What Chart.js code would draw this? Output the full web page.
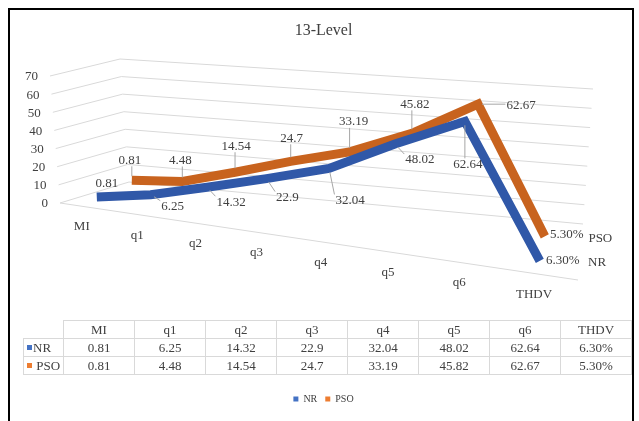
<!DOCTYPE html>
<html><head><meta charset="utf-8">
<script src="https://cdn.jsdelivr.net/npm/chart.js@4.4.1/dist/chart.umd.min.js"></script>
<style>
html,body{margin:0;padding:0;background:#fff;}
#wrap{position:relative;width:639px;height:421px;overflow:hidden;background:#fff;}
#frame{position:absolute;left:8px;top:8px;width:626px;height:440px;border:2px solid #000;box-sizing:border-box;pointer-events:none;}
canvas{position:absolute;left:0;top:0;}
#tbl{position:absolute;left:23px;top:320px;border-collapse:collapse;table-layout:fixed;width:608px;font-family:"Liberation Serif","Times New Roman",serif;font-size:13px;color:#404040;}
#tbl tr{height:18px;}
#tbl td{border:1px solid #d9d9d9;padding:0;text-align:center;line-height:16px;white-space:nowrap;}
#tbl td.lab{text-align:left;padding-left:3px;}
#tbl td.blank{border-top:none;border-left:none;}
.key{display:inline-block;width:5px;height:5px;vertical-align:middle;margin-right:1px;position:relative;top:-1px;}
</style></head>
<body><div id="wrap"><canvas id="c" width="639" height="421"></canvas><table id="tbl"></table><div id="frame"></div></div>
<script>
// ---------- data ----------
const categories = ['MI', 'q1', 'q2', 'q3', 'q4', 'q5', 'q6', 'THDV'];
const seriesNames = ['NR', 'PSO'];
const nrValues = [0.81, 6.25, 14.32, 22.9, 32.04, 48.02, 62.64, 0.063];
const psoValues = [0.81, 4.48, 14.54, 24.7, 33.19, 45.82, 62.67, 0.053];
const yTickValues = [0, 10, 20, 30, 40, 50, 60, 70];
const percentCategory = 'THDV';

function fmt(v, i) { return categories[i] === percentCategory ? (v * 100).toFixed(2) + '%' : String(v); }

// ---------- layout / style ----------
const FONT = '"Liberation Serif", "Times New Roman", serif';
const TEXT = '#404040';
const GRID = '#d9d9d9';
const LINE_COLORS = ['#3058a8', '#c8631e'];
const KEY_COLORS = ['#4472c4', '#ed7d31'];
const WARP_G = -0.181;               // perspective foreshortening along the category axis
const FLB = [60, 203], FLT = [50, 76];    // front-left edge (value 0 / max)
const BLB = [129, 182], BLT = [120, 59];  // back-left edge
const BRB = [583, 224], BRT = [593, 89];  // back-right edge
const FRB = [578, 280];                   // front-right floor corner
const PLANES = [                          // depth planes of the two ribbons
  { L0: [70.6, 194.8], R0: [578, 266.4], HL: [-8, -125], HR: [0, -150] },
  { L0: [107.4, 178.2], R0: [580.4, 241.2], HL: [-6, -97], HR: [4, -149] }
];
const LABEL_OFFSETS = [
  [[10, -13], [22, 12], [24, 15], [21, 19], [21, 32], [25, 16], [3, 43], [23, 0]],
  [[-2, -20], [-2, -21], [1, -26], [1, -23], [4, -30], [3, -29], [43, 1], [22, -2]]
];
const SERIES_LABEL_OFFSETS = [[10, -4], [8, -3]];

function lerp2(a, b, t) { return [a[0] + (b[0] - a[0]) * t, a[1] + (b[1] - a[1]) * t]; }
function warp(u) { return u * (1 + WARP_G) / (1 + WARP_G * u); }
function project(p, u, t) {
  const f = warp(u);
  const b = lerp2(p.L0, p.R0, f);
  const h = lerp2(p.HL, p.HR, f);
  return [b[0] + h[0] * t, b[1] + h[1] * t];
}

const pseudo3d = {
  id: 'pseudo3d',
  beforeDatasetsDraw(chart) {
    const ctx = chart.ctx, xs = chart.scales.x, ys = chart.scales.y;
    const tOf = v => (ys.bottom - ys.getPixelForValue(v)) / (ys.bottom - ys.top);
    const uOf = i => (xs.getPixelForValue(i) - xs.left) / (xs.right - xs.left);
    ctx.save();
    ctx.strokeStyle = GRID; ctx.lineWidth = 1;
    ctx.font = '13px ' + FONT; ctx.fillStyle = TEXT;
    yTickValues.forEach(v => {
      const t = tOf(v);
      const fl = lerp2(FLB, FLT, t), bl = lerp2(BLB, BLT, t), br = lerp2(BRB, BRT, t);
      ctx.beginPath(); ctx.moveTo(fl[0], fl[1]); ctx.lineTo(bl[0], bl[1]); ctx.lineTo(br[0], br[1]); ctx.stroke();
      ctx.textAlign = 'right'; ctx.textBaseline = 'middle';
      ctx.fillText(String(v), fl[0] - 12, fl[1] + 1);
    });
    ctx.beginPath(); ctx.moveTo(FLB[0], FLB[1]); ctx.lineTo(FRB[0], FRB[1]); ctx.stroke();
    ctx.textAlign = 'center'; ctx.textBaseline = 'middle';
    categories.forEach((c, i) => {
      const p = lerp2(FLB, FRB, warp(uOf(i)));
      ctx.fillText(c, p[0] - 5, p[1] + 20);
    });
    ctx.textAlign = 'left';
    seriesNames.forEach((n, d) => {
      const r = PLANES[d].R0, o = SERIES_LABEL_OFFSETS[d];
      ctx.fillText(n, r[0] + o[0], r[1] + o[1]);
    });
    ctx.restore();
    chart.data.datasets.forEach((ds, d) => {
      const meta = chart.getDatasetMeta(d);
      meta.data.forEach((pt, i) => {
        const pr = project(PLANES[d], uOf(i), tOf(ds.data[i]));
        pt.x = pr[0]; pt.y = pr[1];
      });
    });
  },
  afterDatasetsDraw(chart) {
    const ctx = chart.ctx;
    ctx.save();
    ctx.font = '13px ' + FONT;
    ctx.textAlign = 'center'; ctx.textBaseline = 'middle';
    chart.data.datasets.forEach((ds, d) => {
      const meta = chart.getDatasetMeta(d);
      meta.data.forEach((pt, i) => {
        const txt = fmt(ds.data[i], i);
        const o = LABEL_OFFSETS[d][i];
        const cx = pt.x + o[0], cy = pt.y + o[1];
        const w = ctx.measureText(txt).width;
        const x0 = cx - w / 2 - 1, x1 = cx + w / 2 + 1, y0 = cy - 6, y1 = cy + 6;
        const nx = Math.max(x0, Math.min(pt.x, x1)), ny = Math.max(y0, Math.min(pt.y, y1));
        const dist = Math.hypot(nx - pt.x, ny - pt.y);
        if (dist > 10) {
          const sx = pt.x + (nx - pt.x) / dist * 4, sy = pt.y + (ny - pt.y) / dist * 4;
          ctx.strokeStyle = '#a6a6a6'; ctx.lineWidth = 1;
          ctx.beginPath(); ctx.moveTo(sx, sy); ctx.lineTo(nx, ny); ctx.stroke();
        }
        ctx.fillStyle = TEXT;
        ctx.fillText(txt, cx, cy);
      });
    });
    ctx.restore();
  }
};

new Chart(document.getElementById('c'), {
  type: 'line',
  data: {
    labels: categories,
    datasets: [
      { label: seriesNames[0], data: nrValues, borderColor: LINE_COLORS[0], backgroundColor: KEY_COLORS[0],
        borderWidth: 9, pointRadius: 0, borderJoinStyle: 'miter', borderCapStyle: 'butt', clip: false, tension: 0, fill: false },
      { label: seriesNames[1], data: psoValues, borderColor: LINE_COLORS[1], backgroundColor: KEY_COLORS[1],
        borderWidth: 9, pointRadius: 0, borderJoinStyle: 'miter', borderCapStyle: 'butt', clip: false, tension: 0, fill: false }
    ]
  },
  options: {
    responsive: false, animation: false, events: [], devicePixelRatio: 1,
    layout: { padding: { left: 8, right: 0, top: 12, bottom: 7 } },
    scales: {
      x: { display: false, offset: true },
      y: { display: false, min: 0, max: 70 }
    },
    plugins: {
      title: { display: true, text: '13-Level', color: TEXT, font: { family: FONT, size: 16, weight: 'normal' }, padding: { top: 9, bottom: 10 } },
      legend: {
        position: 'bottom',
        labels: {
          boxWidth: 5, boxHeight: 5, color: TEXT, padding: 8,
          font: { family: FONT, size: 10 },
          generateLabels(chart) {
            return Chart.defaults.plugins.legend.labels.generateLabels(chart).map((it, i) =>
              Object.assign(it, { fillStyle: KEY_COLORS[i], strokeStyle: KEY_COLORS[i], lineWidth: 0 }));
          }
        }
      },
      tooltip: { enabled: false }
    }
  },
  plugins: [pseudo3d]
});

// data table
(function () {
  const tbl = document.getElementById('tbl');
  let html = '<colgroup><col style="width:40px">' + categories.map(() => '<col style="width:71px">').join('') + '</colgroup>';
  html += '<tr><td class="blank"></td>' + categories.map(c => '<td>' + c + '</td>').join('') + '</tr>';
  [nrValues, psoValues].forEach((vals, d) => {
    html += '<tr><td class="lab"><span class="key" style="background:' + KEY_COLORS[d] + '"></span>' +
      (d ? '&nbsp;' : '') + seriesNames[d] + '</td>' + vals.map((v, i) => '<td>' + fmt(v, i) + '</td>').join('') + '</tr>';
  });
  tbl.innerHTML = html;
})();
</script>
</body></html>
